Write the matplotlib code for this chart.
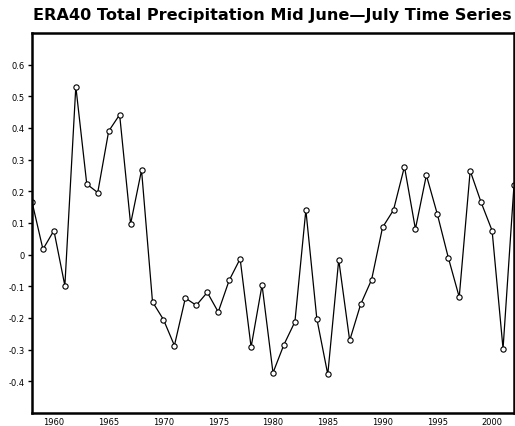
import numpy as np
import matplotlib
matplotlib.use('Agg')
from matplotlib import pyplot as plt

years = np.arange(1958, 2003)
precip = [0.167, 0.017, 0.076, -0.098, 0.531, 0.223, 0.196, 0.390, 0.442, 0.097,
          0.267, -0.149, -0.205, -0.287, -0.137, -0.160, -0.119, -0.181, -0.081, -0.013,
          -0.292, -0.096, -0.373, -0.284, -0.212, 0.141, -0.202, -0.378, -0.016, -0.271,
          -0.157, -0.079, 0.086, 0.141, 0.278, 0.081, 0.251, 0.128, -0.009, -0.134,
          0.265, 0.165, 0.076, -0.297, 0.220]
xticks = [1960, 1965, 1970, 1975, 1980, 1985, 1990, 1995, 2000]
yticks = [-0.4, -0.3, -0.2, -0.1, 0, 0.1, 0.2, 0.3, 0.4, 0.5, 0.6]
ylabels = ['-0.4', '-0.3', '-0.2', '-0.1', '0', '0.1', '0.2', '0.3', '0.4', '0.5', '0.6']

fig = plt.figure(figsize=(5.15, 4.27), dpi=100)
ax = fig.add_axes([32 / 515, 13 / 427, 482 / 515, 380 / 427])

ax.plot(years, precip, color='black', lw=0.9, marker='o', ms=3.8,
        mfc='white', mec='black', mew=0.8, clip_on=True)

ax.set_xlim(1958, 2002)
ax.set_ylim(-0.5, 0.7)
ax.set_xticks(xticks)
ax.set_xticklabels([str(y) for y in xticks])
ax.set_yticks(yticks)
ax.set_yticklabels(ylabels)
ax.tick_params(axis='x', length=0, labelsize=6, pad=3)
ax.tick_params(axis='y', length=3, width=1, direction='out', labelsize=6, pad=2)
for s in ax.spines.values():
    s.set_linewidth(1.8)

fig.text(0.529, 0.963, 'ERA40 Total Precipitation Mid June\u2014July Time Series',
         ha='center', va='center', fontsize=11.6, fontweight='bold')

fig.savefig('out.png', dpi=100)
